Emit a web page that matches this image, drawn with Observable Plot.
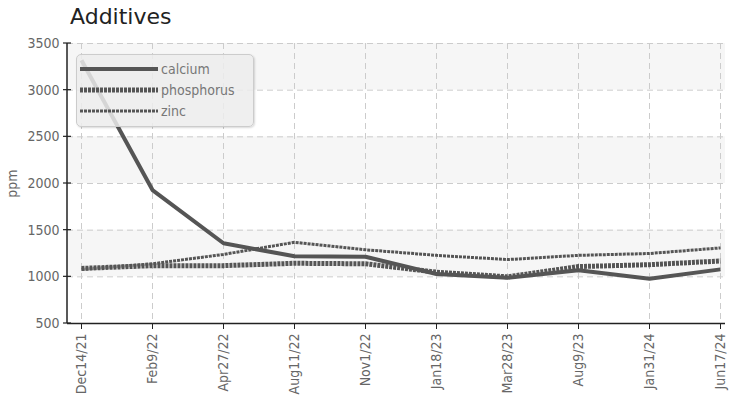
<!DOCTYPE html>
<html><head><meta charset="utf-8">
<script src="https://cdn.jsdelivr.net/npm/d3@7"></script>
<script src="https://cdn.jsdelivr.net/npm/@observablehq/plot@0.6"></script>
<style>
body{margin:0;background:#fff;font-family:"DejaVu Sans",sans-serif;}
#wrap{position:relative;width:731px;height:412px;}
#title{height:34px;line-height:34px;padding-left:70px;font-family:"DejaVu Sans",sans-serif;font-size:22px;color:#222;}
#legend{position:absolute;left:76px;top:54px;width:178px;height:73px;background:rgba(236,236,236,0.85);border:1px solid #ccc;border-radius:5px;box-shadow:1px 1px 2px rgba(0,0,0,0.15);box-sizing:border-box;}
.row{position:absolute;left:3px;height:20px;display:flex;align-items:center;font-size:14px;color:#777;font-stretch:condensed;}
.row svg{margin-right:3px;}
svg text{font-stretch:condensed;}
</style></head><body>
<div id="wrap"><div id="title">Additives</div><div id="chart"></div>
<div id="legend"></div></div>
<script>
const dates = ["Dec14/21","Feb9/22","Apr27/22","Aug11/22","Nov1/22","Jan18/23","Mar28/23","Aug9/23","Jan31/24","Jun17/24"];
const calcium = [3320,1930,1360,1220,1215,1030,990,1070,980,1080];
const phosphorus = [1090,1120,1120,1145,1140,1050,1000,1110,1130,1170];
const zinc = [1080,1140,1240,1370,1290,1230,1185,1230,1250,1310];
const seriesNames = ["calcium","phosphorus","zinc"];
const yTicks = [500,1000,1500,2000,2500,3000,3500];
const bands = [[1000,1500],[2000,2500],[3000,3500]];

const styles = {
  calcium:{strokeWidth:4, dash:null},
  phosphorus:{strokeWidth:5, dash:"3,1"},
  zinc:{strokeWidth:3, dash:"3,1"}
};
const seriesVals = {calcium, phosphorus, zinc};
const rows = [];
for (const s of seriesNames) dates.forEach((d,i)=>rows.push({series:s,date:d,value:seriesVals[s][i]}));

const lineMarks = seriesNames.map(s => Plot.line(rows.filter(r=>r.series===s), {
  x:"date", y:"value", stroke:"#555", strokeWidth:styles[s].strokeWidth,
  strokeDasharray:styles[s].dash, strokeLinejoin:"miter", strokeLinecap:"butt"
}));

const FONT = '"DejaVu Sans",sans-serif';
const chart = Plot.plot({
  width:731, height:378,
  marginTop:9, marginBottom:89, marginLeft:67, marginRight:6,
  style:{fontFamily:FONT, fontSize:"14px", color:"#777", background:"transparent"},
  x:{type:"point", domain:dates, range:[78,723], padding:0},
  y:{domain:[500,3500]},
  marks:[
    Plot.rectY(bands.map(b=>({y1:b[0],y2:b[1]})), {y1:"y1", y2:"y2", fill:"#f6f6f6"}),
    Plot.gridY(yTicks.filter(t=>t>500), {stroke:"#ccc", strokeOpacity:1, strokeDasharray:"6,4"}),
    Plot.gridX(dates, {stroke:"#ccc", strokeOpacity:1, strokeDasharray:"6,4"}),
    ...lineMarks,
    Plot.ruleY([500], {stroke:"#222", strokeWidth:1.5}),
    Plot.axisY(yTicks, {tickSize:0, tickPadding:8, tickFormat:d=>String(d), label:"ppm", labelAnchor:"center", labelArrow:"none", labelOffset:60, fill:"#666", fontSize:14}),
    Plot.axisX(dates, {tickSize:6, tickRotate:-90, tickPadding:4, label:null, fill:"#666", stroke:"#222", fontSize:14})
  ]
});
document.getElementById("chart").appendChild(chart);

const svg = d3.select(chart);
const yScale = chart.scale("y");
svg.append("line").attr("x1",67).attr("x2",67).attr("y1",yScale.apply(3500)).attr("y2",yScale.apply(500)).attr("stroke","#222").attr("stroke-width",1.5);
svg.selectAll(".ytk").data(yTicks).join("line").attr("x1",63).attr("x2",71)
  .attr("y1",d=>yScale.apply(d)).attr("y2",d=>yScale.apply(d)).attr("stroke","#222").attr("stroke-width",1.2);

const leg = document.getElementById("legend");
seriesNames.forEach((s,i)=>{
  const r = document.createElement("div"); r.className="row"; r.style.top=(4+i*21)+"px";
  const st = styles[s];
  r.innerHTML = `<svg width="78" height="10"><line x1="0" x2="78" y1="5" y2="5" stroke="#555" stroke-width="${st.strokeWidth}" ${st.dash?`stroke-dasharray="${st.dash}"`:""}/></svg><span>${s}</span>`;
  leg.appendChild(r);
});
</script></body></html>
